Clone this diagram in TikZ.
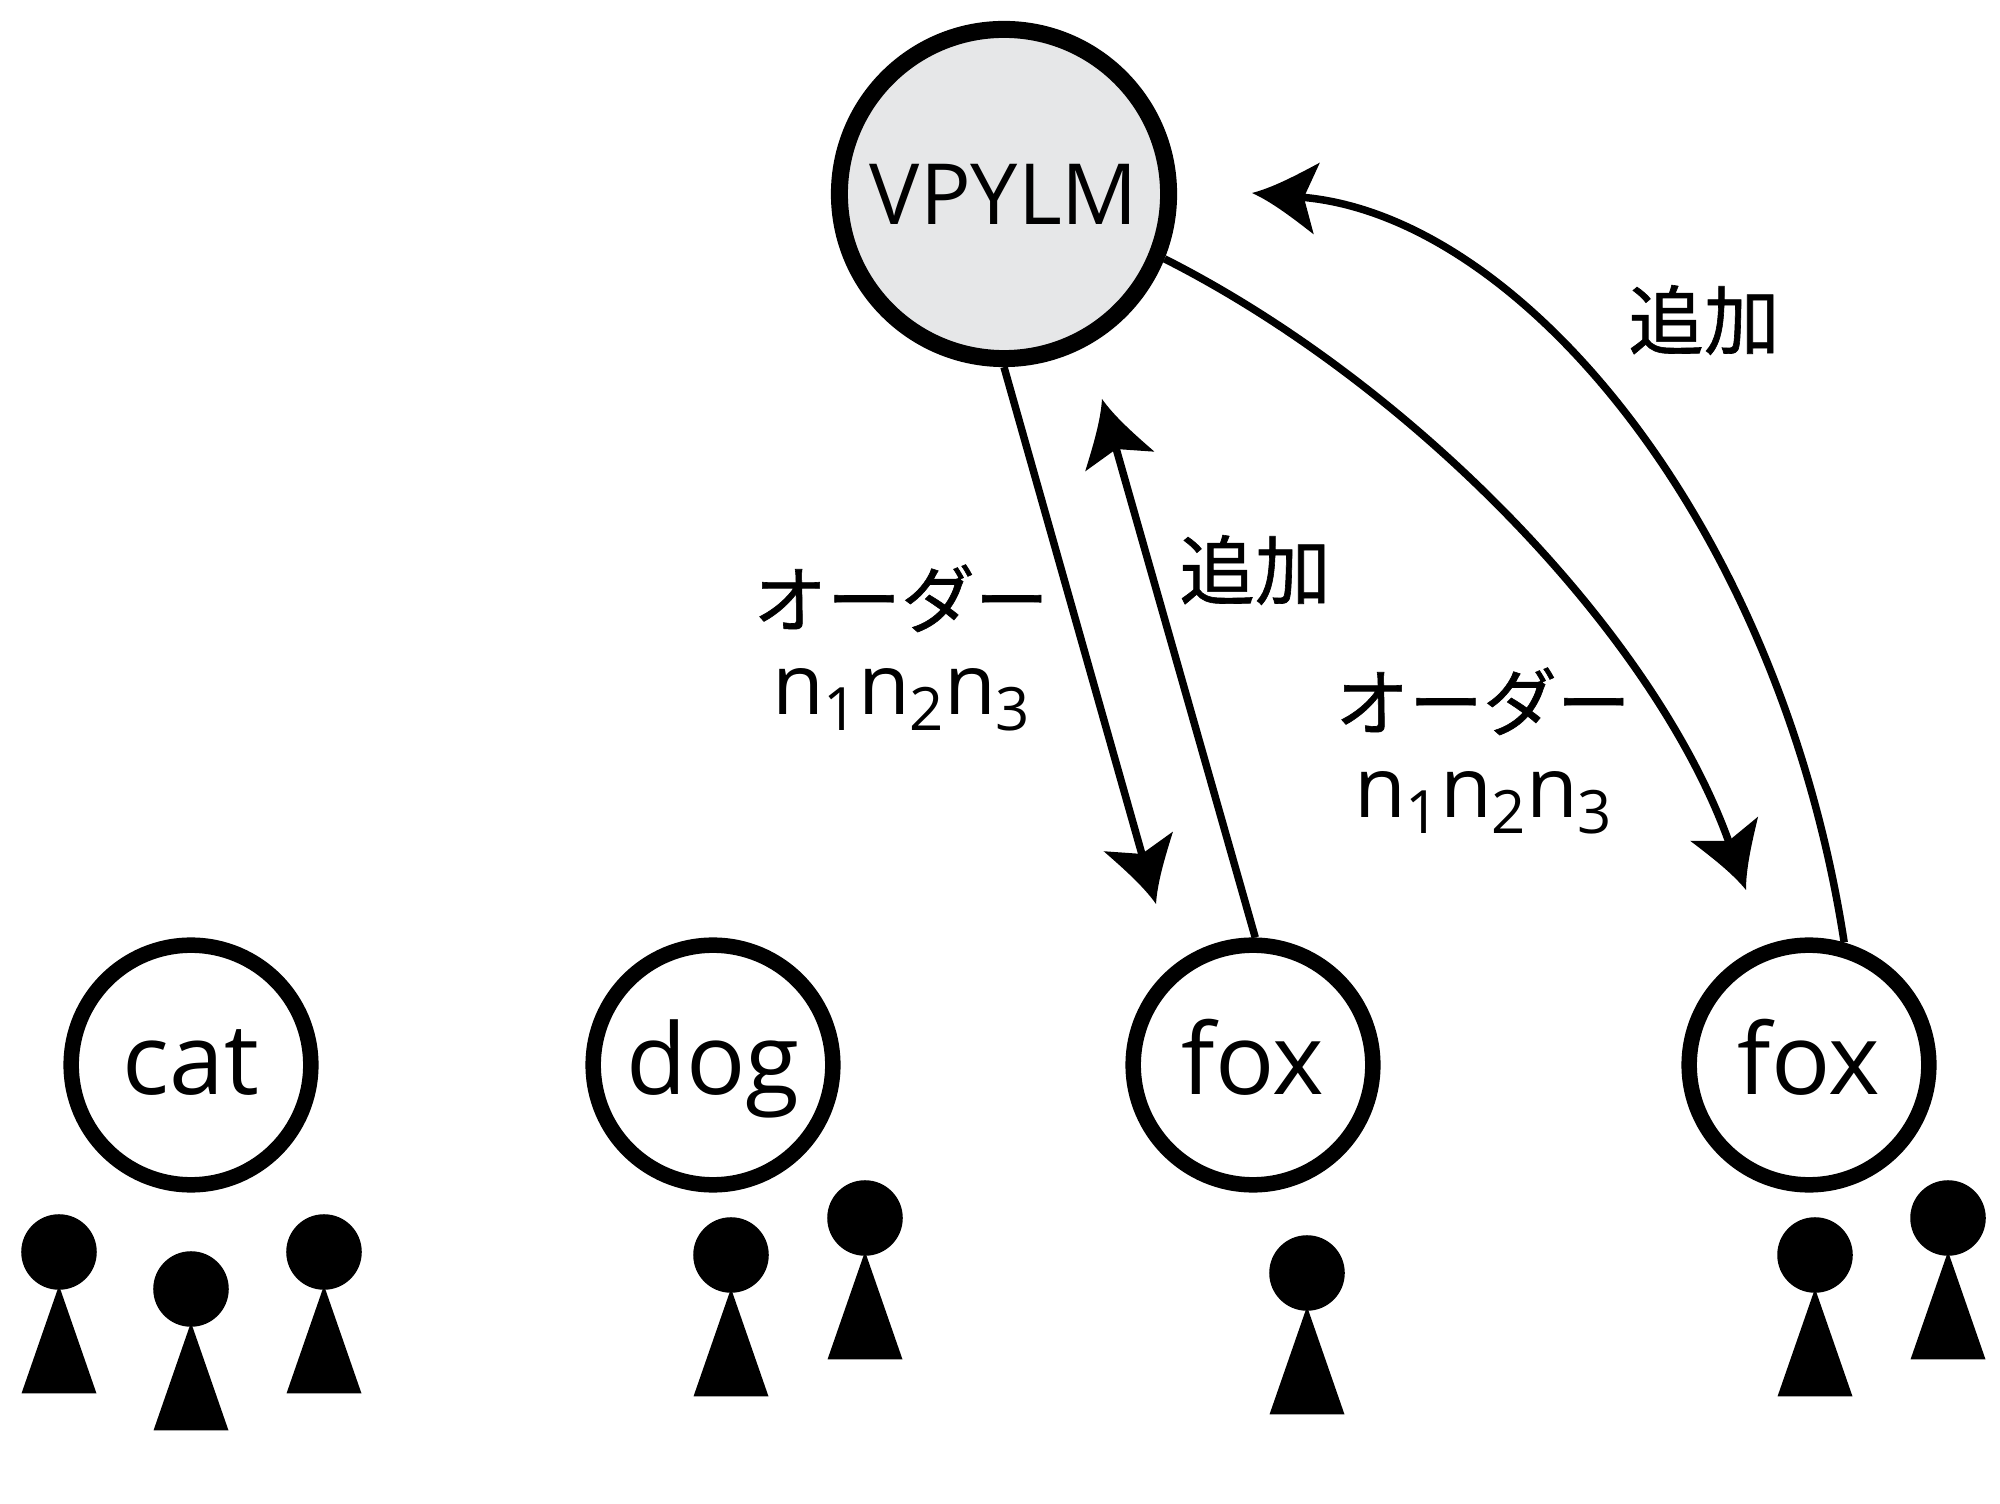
\documentclass[tikz,border=0pt]{standalone}
\usepackage{fontspec}
\setmainfont{Open Sans}
\newfontfamily\cjk[FakeBold=0.8]{Noto Sans CJK JP}
\usetikzlibrary{arrows.meta}
\definecolor{VPFill}{HTML}{E6E7E8}
\pgfdeclarearrow{
  name=SweptHead,
  setup code={
    \pgfarrowssettipend{0cm}
    \pgfarrowssetlineend{-0.5cm}
    \pgfarrowssetvisualbackend{-0.53cm}
    \pgfarrowssetbackend{-0.65cm}
  },
  drawing code={
    \pgfpathmoveto{\pgfqpoint{0cm}{0cm}}
    \pgfpathcurveto{\pgfpoint{-0.2cm}{0.07cm}}{\pgfpoint{-0.42cm}{0.21cm}}{\pgfpoint{-0.65cm}{0.36cm}}
    \pgfpathlineto{\pgfpoint{-0.52cm}{0cm}}
    \pgfpathlineto{\pgfpoint{-0.65cm}{-0.36cm}}
    \pgfpathcurveto{\pgfpoint{-0.42cm}{-0.21cm}}{\pgfpoint{-0.2cm}{-0.07cm}}{\pgfpoint{0cm}{0cm}}
    \pgfpathclose
    \pgfusepathqfill
  }
}
\newcommand{\nsub}[1]{{\fontsize{24}{24}\selectfont n}\raisebox{-4.5pt}{\fontsize{17}{17}\selectfont #1}}
\tikzset{
  wordnode/.style={circle,draw=black,line width=0.155cm,fill=white,minimum size=2.395cm,inner sep=0pt,text height=0.58cm,text depth=0pt,font=\fontsize{28}{28}\selectfont},
  personhead/.style={circle,fill=black,minimum size=0.755cm,inner sep=0pt},
  linkline/.style={-SweptHead,line width=0.075cm},
  jplabel/.style={align=center,inner sep=0pt,font=\fontsize{21}{25}\selectfont},
  addlabel/.style={inner sep=0pt,font=\fontsize{21.5}{22}\selectfont\cjk}
}

\begin{document}
\begin{tikzpicture}[x=0.01cm,y=-0.01cm]
\useasboundingbox (0,0) rectangle (2000,1504);
\node[circle,draw=black,line width=0.17cm,fill=VPFill,minimum size=3.29cm,inner sep=0pt,font=\fontsize{24}{24}\selectfont] (vpylm) at (1004,194) {VPYLM};
\node[wordnode] (cat) at (191,1065) {cat};
\node[wordnode] (dog) at (713,1065) {dog};
\node[wordnode] (foxa) at (1253,1065) {fox};
\node[wordnode] (foxb) at (1809,1065) {fox};
\foreach \pname/\px/\py in {a/59/1252,b/191/1289,c/324/1252,d/731/1255,e/865/1218,f/1307/1273,g/1815/1255,h/1948/1218}{
  \node[personhead] (head\pname) at (\px,\py) {};
  \fill ([yshift=0.05cm]head\pname.south) -- ++(-37.5,108) -- ++(75,0) -- cycle;
}
\coordinate (tipa) at (1156,904);
\coordinate (tipb) at (1102,399);
\coordinate (tipc) at (1746,890);
\coordinate (tipd) at (1252,193);
\draw[linkline] (vpylm.-90) -- (tipa);
\draw[linkline] (foxa.89) -- (tipb);
\draw[linkline] (vpylm.-22) .. controls (1414,385) and (1655,635) .. (tipc);
\draw[linkline] (foxb.74) .. controls (1780,526) and (1522,216) .. (tipd);
\node[jplabel] (ordera) at (901,648) {{\cjk オーダー}\\\nsub{1}\nsub{2}\nsub{3}};
\node[jplabel] (orderb) at (1483,751) {{\cjk オーダー}\\\nsub{1}\nsub{2}\nsub{3}};
\node[addlabel] (adda) at (1255,570) {追加};
\node[addlabel] (addb) at (1704,320) {追加};
\end{tikzpicture}
\end{document}
